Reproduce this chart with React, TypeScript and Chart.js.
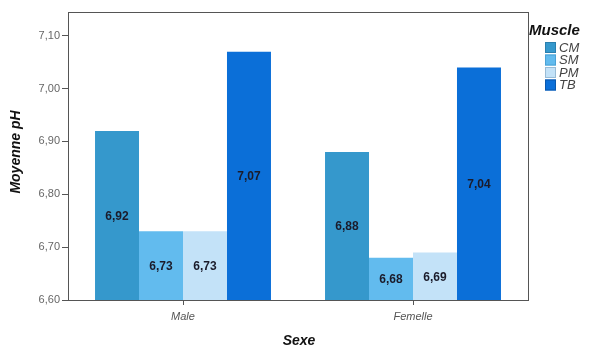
import React, { useEffect, useRef } from "react";
import { Chart, registerables } from "chart.js";

Chart.register(...registerables);

const categories = ["Male", "Femelle"];
const seriesNames = ["CM", "SM", "PM", "TB"];
const cmValues = [6.92, 6.88];
const smValues = [6.73, 6.68];
const pmValues = [6.73, 6.69];
const tbValues = [7.07, 7.04];
const yTicks = [6.6, 6.7, 6.8, 6.9, 7.0, 7.1];
const colors = ["#3598cc", "#62bbee", "#c3e2f8", "#0b6fd8"];
const borderColors = ["#2a7fae", "#4aa2d6", "#99bcd6", "#0a58ad"];

const FONT = "'Liberation Sans', Arial, sans-serif";

const fmt = (v: number) => v.toFixed(2).replace(".", ",");

export default function App() {
  const ref = useRef<HTMLCanvasElement>(null);
  useEffect(() => {
    document.body.style.margin = "0";
    const canvas = ref.current!;
    const series = [cmValues, smValues, pmValues, tbValues];

    const extrasPlugin = {
      id: "extras",
      afterDraw(chart: any) {
        const ctx = chart.ctx;
        const a = chart.chartArea;
        const ys = chart.scales.y;
        ctx.save();
        // value labels
        ctx.font = `bold 12px ${FONT}`;
        ctx.fillStyle = "#1b1b2a";
        ctx.textAlign = "center";
        ctx.textBaseline = "middle";
        series.forEach((d, i) => {
          const meta = chart.getDatasetMeta(i);
          d.forEach((v, j) => {
            const el = meta.data[j];
            const x = el.x;
            const yTop = ys.getPixelForValue(v);
            const yBase = ys.getPixelForValue(ys.min);
            ctx.fillText(fmt(v), x, (yTop + yBase) / 2 + 1);
          });
        });
        // box
        ctx.strokeStyle = "#555";
        ctx.lineWidth = 1;
        ctx.strokeRect(Math.round(a.left) + 0.5, Math.round(a.top) + 0.5, Math.round(a.right - a.left), Math.round(a.bottom - a.top));
        // axis titles
        ctx.fillStyle = "#111";
        ctx.font = `italic bold 14px ${FONT}`;
        ctx.textAlign = "center";
        ctx.textBaseline = "middle";
        ctx.fillText("Sexe", 299, 341);
        ctx.save();
        ctx.translate(16, 152);
        ctx.rotate(-Math.PI / 2);
        ctx.fillText("Moyenne pH", 0, 0);
        ctx.restore();
        // legend
        ctx.textAlign = "left";
        ctx.font = `italic bold 15px ${FONT}`;
        ctx.fillText("Muscle", 529, 31);
        ctx.font = `italic 13px ${FONT}`;
        seriesNames.forEach((n, i) => {
          const cy = 47 + i * 12.5;
          ctx.fillStyle = colors[i];
          ctx.fillRect(545, cy - 5, 11, 11);
          ctx.strokeStyle = borderColors[i];
          ctx.strokeRect(545.5, cy - 4.5, 10, 10);
          ctx.fillStyle = "#444";
          ctx.fillText(n, 559, cy + 1);
        });
        ctx.restore();
      },
    };

    const chart = new Chart(canvas, {
      type: "bar",
      data: {
        labels: categories,
        datasets: series.map((d, i) => ({
          label: seriesNames[i],
          data: d,
          backgroundColor: colors[i],
          borderWidth: 0,
          barPercentage: 1,
          categoryPercentage: 0.765,
        })),
      },
      options: {
        animation: false,
        responsive: false,
        maintainAspectRatio: false,
        layout: { padding: { left: 0, right: 67, top: 12, bottom: 0 } },
        plugins: { legend: { display: false }, tooltip: { enabled: false } },
        scales: {
          x: {
            grid: { offset: false, drawOnChartArea: false, drawTicks: true, tickLength: 5, color: "#555" },
            border: { display: true, color: "#555" },
            ticks: { font: { family: FONT, size: 11, style: "italic" }, color: "#555", padding: 5 },
            afterFit: (s: any) => { s.height = 47; },
          },
          y: {
            min: 6.6,
            max: 7.145,
            grid: { drawOnChartArea: false, drawTicks: true, tickLength: 6, color: "#555" },
            border: { display: true, color: "#555" },
            ticks: {
              font: { family: FONT, size: 11 },
              color: "#666",
              padding: 2,
              callback: (v: any) => fmt(Number(v)),
            },
            afterBuildTicks: (s: any) => { s.ticks = yTicks.map((v) => ({ value: v })); },
            afterFit: (s: any) => { s.width = 68; },
          },
        },
      },
      plugins: [extrasPlugin],
    } as any);
    return () => chart.destroy();
  }, []);
  return (
    <div style={{ width: 595, height: 347, background: "#fff" }}>
      <canvas ref={ref} width={595} height={347} style={{ display: "block" }} />
    </div>
  );
}
